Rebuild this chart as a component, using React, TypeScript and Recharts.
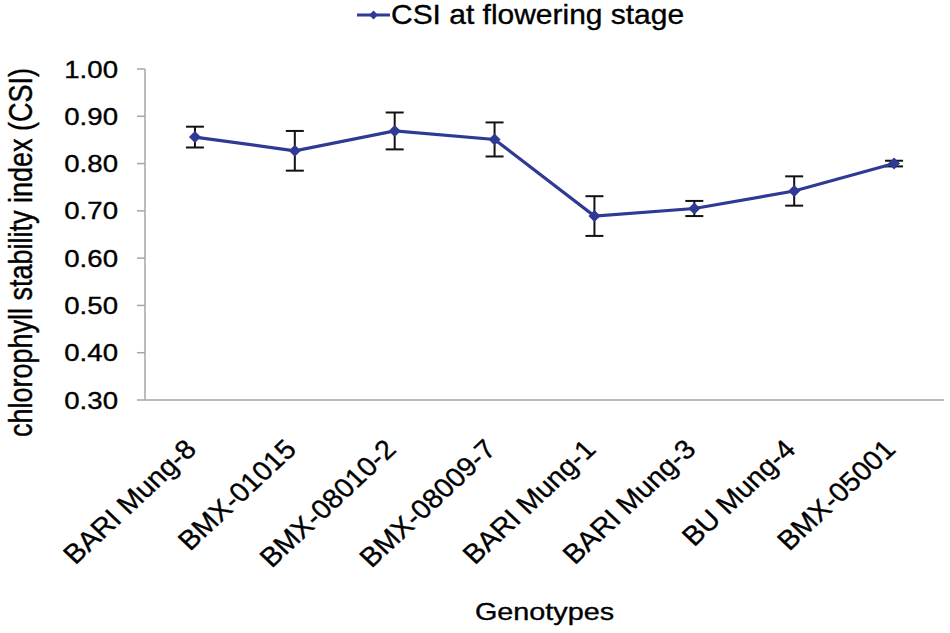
import React from 'react';
import { LineChart, Line, XAxis, YAxis, ErrorBar, Legend, Label } from 'recharts';

const genotypes = ['BARI Mung-8', 'BMX-01015', 'BMX-08010-2', 'BMX-08009-7', 'BARI Mung-1', 'BARI Mung-3', 'BU Mung-4', 'BMX-05001'];
const csiValues = [0.856, 0.827, 0.869, 0.851, 0.689, 0.705, 0.742, 0.8];
const csiErrors = [0.022, 0.042, 0.039, 0.036, 0.042, 0.016, 0.031, 0.006];
const yTicks = [0.3, 0.4, 0.5, 0.6, 0.7, 0.8, 0.9, 1.0];

const seriesName = 'CSI at flowering stage';
const xTitle = 'Genotypes';
const yTitle = 'chlorophyll stability index (CSI)';

const data = genotypes.map((g, i) => ({ genotype: g, csi: csiValues[i], err: csiErrors[i] }));

const FONT = '"Liberation Sans", Arial, sans-serif';
const LINE = '#2E3A94';
const AXIS = '#A6A6A6';
const TEXT_STROKE = 0.35;

const Diamond = (props: any) => {
  const { cx, cy, index } = props;
  if (cx == null || cy == null) return null;
  const r = 6;
  return (
    <polygon
      key={`d-${index}`}
      points={`${cx},${cy - r} ${cx + r},${cy} ${cx},${cy + r} ${cx - r},${cy}`}
      fill={LINE}
    />
  );
};

const XTick = (props: any) => {
  const { x, y, payload } = props;
  const ax = x + 3;
  const ay = y + 51;
  return (
    <text
      transform={`translate(${ax},${ay}) scale(1.07,1) rotate(-45)`}
      textAnchor="end"
      fontSize={27}
      fontFamily={FONT}
      fill="#000"
      stroke="#000"
      strokeWidth={TEXT_STROKE}
    >
      {payload.value}
    </text>
  );
};

const YTick = (props: any) => {
  const { x, y, payload } = props;
  const by = y + 8.6;
  return (
    <text
      transform={`translate(${x},${by}) scale(1.15,1)`}
      textAnchor="end"
      fontSize={24}
      fontFamily={FONT}
      fill="#000"
      stroke="#000"
      strokeWidth={TEXT_STROKE}
    >
      {Number(payload.value).toFixed(2)}
    </text>
  );
};

const GenoLabel = (props: any) => {
  const vb = props.viewBox || { x: 145, y: 400, width: 799, height: 233 };
  const cx = vb.x + vb.width / 2;
  const by = vb.y + vb.height - 13;
  return (
    <text
      transform={`translate(${cx},${by}) scale(1.2,1)`}
      textAnchor="middle"
      fontSize={24}
      fontFamily={FONT}
      fill="#000"
      stroke="#000"
      strokeWidth={TEXT_STROKE}
    >
      {xTitle}
    </text>
  );
};

const YTitle = (props: any) => {
  const vb = props.viewBox || { x: 0, y: 69, width: 145, height: 331 };
  const cy = vb.y + vb.height / 2 + 18;
  const bx = 32;
  return (
    <text
      transform={`translate(${bx},${cy}) scale(1.2,1) rotate(-90)`}
      textAnchor="middle"
      fontSize={27}
      fontFamily={FONT}
      fill="#000"
      stroke="#000"
      strokeWidth={TEXT_STROKE}
    >
      {yTitle}
    </text>
  );
};

const LegendContent = () => (
  <div style={{ position: 'relative', width: 950, height: 36 }}>
    <svg style={{ position: 'absolute', left: 357, top: 6 }} width={33} height={18}>
      <line x1={0} y1={9} x2={33} y2={9} stroke={LINE} strokeWidth={3} />
      <polygon points="16.5,4.5 21,9 16.5,13.5 12,9" fill={LINE} />
    </svg>
    <span
      style={{
        position: 'absolute',
        left: 391,
        top: 1,
        fontSize: 28,
        lineHeight: '28px',
        fontFamily: FONT,
        color: '#000',
        whiteSpace: 'nowrap',
        transform: 'scaleX(1.07)',
        transformOrigin: 'left center',
        WebkitTextStroke: '0.35px #000',
      }}
    >
      {seriesName}
    </span>
  </div>
);

export default function App() {
  return (
    <div style={{ position: 'absolute', left: 0, top: 0, width: 950, height: 633, background: '#fff', fontFamily: FONT }}>
      <LineChart width={950} height={633} data={data} margin={{ top: 33, right: 6, bottom: 0, left: 0 }}>
        <Legend
          verticalAlign="top"
          align="left"
          height={36}
          wrapperStyle={{ top: 0, left: 0, width: 950, height: 36 }}
          content={LegendContent}
        />
        <XAxis
          dataKey="genotype"
          scale="band"
          interval={0}
          height={233}
          tickLine={false}
          tickSize={0}
          tickMargin={0}
          axisLine={{ stroke: AXIS, strokeWidth: 1.5 }}
          tick={<XTick />}
        >
          <Label content={GenoLabel} />
        </XAxis>
        <YAxis
          width={145}
          domain={[0.3, 1]}
          ticks={yTicks}
          interval={0}
          tickSize={8}
          tickMargin={19}
          tickLine={{ stroke: AXIS, strokeWidth: 1.5 }}
          axisLine={{ stroke: AXIS, strokeWidth: 1.5 }}
          tick={<YTick />}
        >
          <Label content={YTitle} />
        </YAxis>
        <Line
          dataKey="csi"
          name={seriesName}
          stroke={LINE}
          strokeWidth={3.2}
          dot={<Diamond />}
          activeDot={false}
          legendType="diamond"
          isAnimationActive={false}
        >
          <ErrorBar dataKey="err" direction="y" width={9} strokeWidth={2} stroke="#111" />
        </Line>
      </LineChart>
    </div>
  );
}
